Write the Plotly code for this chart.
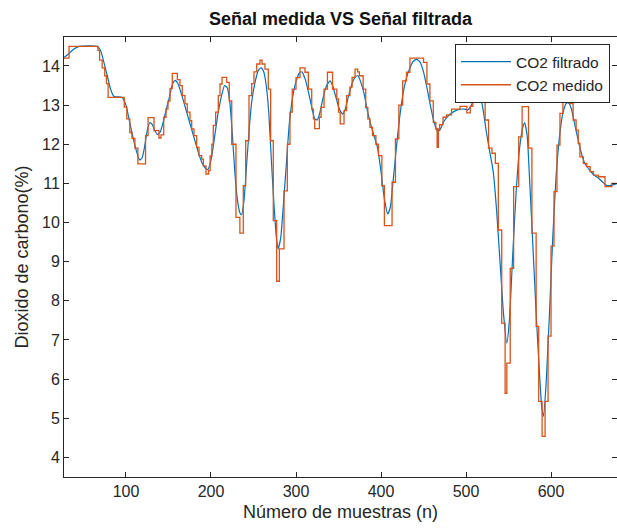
import plotly.graph_objects as go

# Measured signal (step levels starting at each sample index)
med_n = [26, 33, 67, 69, 72, 75, 77, 79, 98, 101, 104.5, 107, 110.5, 114, 123, 126, 133, 138.8, 141.2,
         144.4, 147.1, 149.4, 151.8, 154.5, 160.4, 163.5, 166.2, 169.4, 172.1, 175.3, 177.3, 180, 183.2,
         185.9, 189.1, 191, 194.1, 197.3, 199, 201, 202.7, 205.5, 208.6, 210.6, 213, 218.5, 221.5, 224.4,
         229.4, 234, 238, 240.8, 244.7, 247.9, 250.6, 253.8, 257.6, 260, 263.5, 267.4, 270.2, 273.3, 277.3,
         280.4, 285.9, 289.8, 292.9, 295.6, 300, 304.7, 310.6, 314.5, 318.5, 320.5, 322, 327.5, 329.5, 333,
         337, 343, 348, 350, 352, 356.5, 359.5, 363.5, 366, 369.5, 372.5, 374.5, 379, 382, 384.5, 387, 390,
         394, 397, 401, 404, 413, 417, 421, 425.5, 430, 434, 450, 454, 457.5, 461.5, 464.5, 466, 467.5, 469,
         473, 477, 483, 493, 501, 505, 508, 510.5, 516, 518.5, 522.5, 526.5, 530.5, 534.5, 538, 542, 546,
         548, 552, 556, 562, 566, 573.5, 577.5, 582.5, 585.5, 589.5, 593, 596.5, 600, 603.5, 607, 610.5,
         614, 622, 626, 629.5, 632, 634, 638, 642, 646, 650, 655.5, 663.5, 671.5, 678]
med_v = [14.2, 14.5, 14.4, 14.15, 13.95, 13.75, 13.55, 13.2, 12.95, 12.65, 12.3, 12.15, 11.9, 11.5, 12.22,
         12.68, 12.35, 12.16, 12.24, 12.69, 12.9, 13.1, 13.43, 13.81, 13.65, 13.5, 13.24, 13.03, 12.82, 12.6,
         12.39, 12.22, 11.92, 11.71, 11.62, 11.45, 11.24, 11.33, 11.7, 12.0, 12.48, 12.82, 13.24, 13.54,
         13.71, 13.58, 13.11, 12.0, 10.13, 9.73, 10.94, 12.09, 13.24, 13.55, 13.85, 14.05, 14.15, 14.05,
         13.92, 13.41, 12.09, 10.05, 8.5, 9.33, 10.81, 12.0, 12.82, 13.41, 13.7, 13.95, 13.84, 13.41, 12.9,
         12.65, 12.4, 12.69, 12.94, 13.41, 13.84, 13.41, 13.16, 12.82, 12.52, 12.86, 13.24, 13.46, 13.71,
         13.92, 13.85, 13.75, 13.41, 12.94, 12.65, 12.43, 12.22, 12.0, 11.71, 10.94, 9.92, 11.03, 12.14, 13.0,
         13.62, 13.84, 14.2, 14.09, 13.54, 13.11, 12.56, 12.39, 11.92, 12.39, 12.5, 12.69, 12.75, 12.9, 12.97,
         12.8, 12.97, 13.3, 13.64, 13.2, 13.13, 12.62, 11.9, 11.77, 11.51, 9.81, 7.43, 5.64, 6.41, 8.83,
         10.92, 12.19, 12.96, 11.9, 9.73, 7.35, 5.43, 4.54, 5.43, 7.1, 9.4, 10.79, 11.98, 12.79, 13.3, 13.04,
         12.62, 12.36, 12.02, 11.68, 11.51, 11.43, 11.3, 11.21, 11.17, 10.92, 11.0, 11.0]

# Filtered signal
fil_n = [26, 32, 38, 45, 66, 70, 74, 78, 82, 86, 95, 100, 104, 108, 112, 116, 119, 122, 125, 128, 131, 134,
         137, 140, 143, 147, 151, 155, 158, 161, 165, 169, 173, 177, 181, 185, 189, 193, 196, 199, 202, 205,
         208, 212, 216, 219, 222, 225, 228, 231, 234, 236, 239, 242, 245, 248, 252, 256, 259, 262, 265, 268,
         271, 274, 277, 279, 282, 285, 289, 292, 296, 300, 304, 307, 311, 315, 319, 322, 325, 328, 332, 336,
         340, 343, 347, 351, 355, 358, 362, 366, 370, 373, 376, 380, 384, 388, 392, 396, 400, 404, 408, 411,
         414, 418, 422, 426, 430, 434, 438, 442, 446, 450, 454, 458, 462, 466, 469, 473, 478, 483, 490, 497,
         502, 506, 510, 513, 516, 520, 524, 528, 532, 536, 540, 544, 548, 551, 555, 559, 563, 567, 569, 572,
         575, 578, 582, 586, 589, 591, 594, 598, 602, 606, 610, 614, 618, 621, 624, 628, 632, 636, 640, 645,
         650, 655, 660, 665, 670, 678]
fil_v = [14.2, 14.3, 14.42, 14.5, 14.5, 14.4, 14.1, 13.75, 13.4, 13.22, 13.2, 13.0, 12.6, 12.2, 11.85, 11.6,
         11.65, 11.95, 12.35, 12.55, 12.5, 12.35, 12.25, 12.3, 12.5, 12.85, 13.2, 13.55, 13.63, 13.55, 13.3,
         13.0, 12.7, 12.4, 12.1, 11.8, 11.55, 11.4, 11.35, 11.5, 11.85, 12.3, 12.75, 13.2, 13.5, 13.45, 13.1,
         12.3, 11.3, 10.6, 10.25, 10.2, 10.6, 11.5, 12.4, 13.1, 13.6, 13.9, 13.95, 13.85, 13.5, 12.8, 11.6,
         10.5, 9.6, 9.33, 9.6, 10.4, 11.6, 12.5, 13.2, 13.6, 13.82, 13.85, 13.65, 13.3, 12.9, 12.65, 12.62,
         12.8, 13.2, 13.5, 13.62, 13.5, 13.2, 12.9, 12.77, 12.9, 13.25, 13.55, 13.73, 13.75, 13.6, 13.3, 12.85,
         12.5, 12.2, 11.9, 11.3, 10.6, 10.22, 10.4, 11.0, 11.9, 12.7, 13.3, 13.7, 13.95, 14.12, 14.17, 14.1,
         13.85, 13.45, 13.0, 12.6, 12.35, 12.35, 12.55, 12.7, 12.8, 12.88, 12.9, 12.88, 12.98, 13.25, 13.38,
         13.3, 12.9, 12.3, 11.8, 11.3, 10.3, 9.0, 7.7, 6.92, 7.5, 9.2, 10.8, 11.9, 12.45, 12.55, 12.2, 11.0,
         9.7, 7.9, 6.3, 5.3, 5.05, 5.8, 7.6, 9.6, 11.2, 12.2, 12.8, 13.05, 13.05, 12.9, 12.5, 12.1, 11.75,
         11.5, 11.35, 11.22, 11.15, 11.05, 10.95, 10.95, 11.0]

x_ticks = [100, 200, 300, 400, 500, 600]
y_ticks = [4, 5, 6, 7, 8, 9, 10, 11, 12, 13, 14]

FONT = "Liberation Sans"
INK = "#262626"

fig = go.Figure()
fig.add_trace(go.Scatter(x=fil_n, y=fil_v, mode="lines", name="CO2 filtrado",
                         line=dict(color="#0072BD", width=1.2, shape="spline", smoothing=0.5)))
fig.add_trace(go.Scatter(x=med_n, y=med_v, mode="lines", name="CO2 medido",
                         line=dict(color="#D95319", width=1.3, shape="hv")))

axis_common = dict(showgrid=False, zeroline=False, showline=True, linecolor=INK, linewidth=1,
                   mirror="ticks", ticks="inside", ticklen=5, tickcolor=INK,
                   tickfont=dict(family=FONT, size=16, color=INK))

fig.update_layout(
    width=617, height=528,
    margin=dict(l=64, r=0, t=37, b=51),
    paper_bgcolor="white", plot_bgcolor="white",
    font=dict(family=FONT, color=INK),
    title=dict(text="<b>Señal medida VS Señal filtrada</b>", x=0.5, xref="paper",
               y=1 - 19 / 528, yref="container", yanchor="middle",
               font=dict(family=FONT, size=18, color="#111111")),
    xaxis=dict(range=[27.1, 677.6], tickvals=x_ticks,
               title=dict(text="Número de muestras (n)", font=dict(family=FONT, size=18, color=INK), standoff=6),
               **axis_common),
    yaxis=dict(range=[3.5, 14.74], tickvals=y_ticks,
               title=dict(text="Dioxido de carbono(%)", font=dict(family=FONT, size=18, color=INK), standoff=8),
               **axis_common),
    legend=dict(x=0.707, y=0.984, xanchor="left", yanchor="top", bgcolor="white",
                bordercolor=INK, borderwidth=1, font=dict(family=FONT, size=15.5, color=INK),
                tracegroupgap=0, itemwidth=50),
    showlegend=True,
)

fig.write_html("out.html")
